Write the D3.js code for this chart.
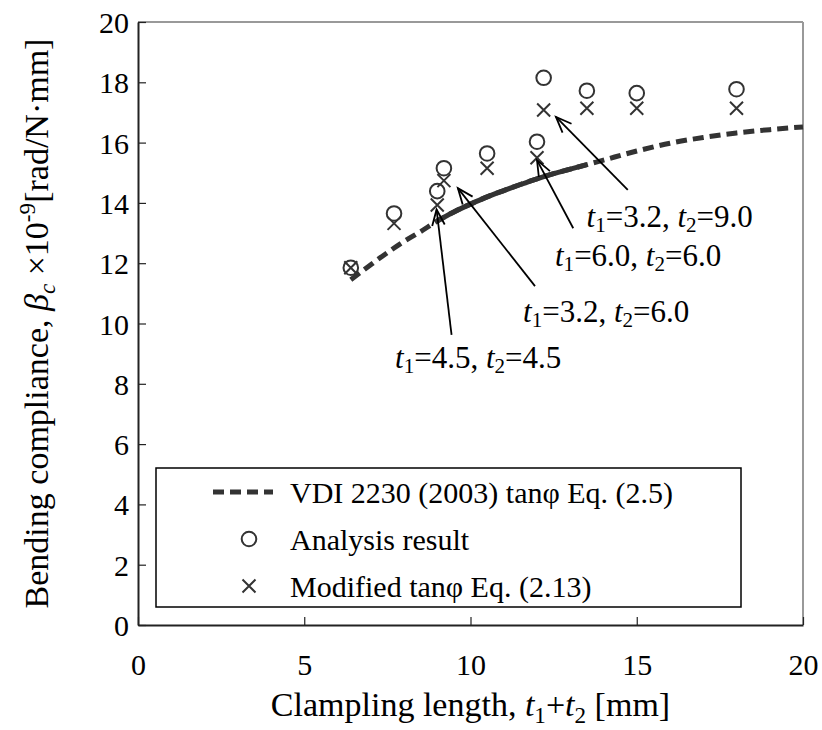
<!DOCTYPE html>
<html>
<head>
<meta charset="utf-8">
<script src="https://cdn.jsdelivr.net/npm/d3@7/dist/d3.min.js"></script>
<style>
  html, body { margin: 0; padding: 0; background: #fff; }
  svg text { font-family: "Liberation Serif", "Times New Roman", serif; fill: #000; }
</style>
</head>
<body>
<svg id="chart" width="822" height="730"></svg>
<script>
// Clamping length t1+t2 [mm] and bending compliance values
const pointX = [6.4, 7.7, 9.0, 9.2, 10.5, 12.0, 12.2, 13.5, 15.0, 18.0];
const analysisY = [11.85, 13.65, 14.39, 15.15, 15.64, 16.03, 18.15, 17.72, 17.64, 17.77];
const modifiedY = [11.85, 13.32, 13.93, 14.74, 15.15, 15.5, 17.08, 17.14, 17.14, 17.14];

// VDI 2230 (2003) tanφ curve
const vdiX = [6.4, 7.0, 7.5, 8.0, 8.5, 9.0, 9.5, 10.0, 10.5, 11.0, 11.5, 12.0, 12.5, 13.0, 13.5, 14.0, 15.0, 16.0, 17.0, 18.0, 19.0, 20.0];
const vdiY = [11.45, 11.95, 12.35, 12.72, 13.05, 13.4, 13.7, 13.96, 14.2, 14.41, 14.61, 14.8, 14.97, 15.12, 15.27, 15.42, 15.72, 15.98, 16.17, 16.32, 16.43, 16.52];

const xTicks = [0, 5, 10, 15, 20];
const yTicks = [0, 2, 4, 6, 8, 10, 12, 14, 16, 18, 20];

const legendLabels = ["VDI 2230 (2003) tanφ Eq. (2.5)", "Analysis result", "Modified tanφ Eq. (2.13)"];

// Callouts: label text parts, label anchor and arrow tail/tip in data units
const calloutT1 = ["4.5", "3.2", "6.0", "3.2"];
const calloutT2 = ["4.5", "6.0", "6.0", "9.0"];
const calloutLabelX = [7.73, 11.58, 12.54, 13.49];
const calloutLabelY = [8.52, 10.06, 11.9, 13.2];
const calloutTailX = [9.43, 11.94, 13.09, 14.73];
const calloutTailY = [9.62, 11.24, 13.16, 14.43];
const calloutTipX = [8.98, 9.62, 12.0, 12.57];
const calloutTipY = [13.78, 14.49, 15.42, 16.85];

const svg = d3.select("#chart");
const M = { left: 138, right: 803, top: 22, bottom: 625 };
const FS_TICK = 30, FS_TITLE = 34, FS_NOTE = 31, FS_LEG = 30;

const x = d3.scaleLinear().domain([0, 20]).range([M.left, M.right]);
const y = d3.scaleLinear().domain([0, 20]).range([M.bottom, M.top]);

const ink = "#333";

// Writes a text run made of plain, italic, subscript and superscript pieces
function rich(sel, parts, size, subShift = 0.22) {
  parts.forEach(p => {
    const ts = sel.append("tspan").text(p.t);
    if (p.i) ts.attr("font-style", "italic");
    if (p.sub) ts.attr("font-size", size * 0.68).attr("dy", size * subShift);
    if (p.sup) ts.attr("font-size", size * 0.68).attr("dy", -size * 0.38);
    if (p.back) ts.attr("dy", p.back * size);
  });
}

// Axes with inward ticks
const xAxis = d3.axisBottom(x).tickValues(xTicks).tickSizeInner(-8).tickSizeOuter(0).tickPadding(29).tickFormat(d3.format("d"));
const yAxis = d3.axisLeft(y).tickValues(yTicks).tickSizeInner(-8).tickSizeOuter(0).tickPadding(9).tickFormat(d3.format("d"));

// Plot frame: top and right edges in grey
svg.append("line").attr("x1", M.left).attr("x2", M.right).attr("y1", M.top).attr("y2", M.top)
  .attr("stroke", "#999").attr("stroke-width", 2);
svg.append("line").attr("x1", M.right).attr("x2", M.right).attr("y1", M.top).attr("y2", M.bottom)
  .attr("stroke", "#999").attr("stroke-width", 2);

const gx = svg.append("g").attr("transform", `translate(0,${M.bottom})`).call(xAxis);
const gy = svg.append("g").attr("transform", `translate(${M.left},0)`).call(yAxis);
[gx, gy].forEach(g => {
  g.select(".domain").attr("stroke", "#222").attr("stroke-width", 2);
  g.selectAll(".tick line").attr("stroke", "#222").attr("stroke-width", 1.2);
  g.selectAll(".tick text").attr("font-family", "Liberation Serif, Times New Roman, serif")
    .attr("font-size", FS_TICK).attr("fill", "#000");
});
gx.selectAll(".tick text").attr("dy", "0.71em");
gy.selectAll(".tick text").attr("dy", "0.35em");

// Axis titles
const xt = svg.append("text").attr("x", (M.left + M.right) / 2).attr("y", 716)
  .attr("text-anchor", "middle").attr("font-size", FS_TITLE);
rich(xt, [{ t: "Clampling length, " }, { t: "t", i: true }, { t: "1", sub: true }, { t: "+", back: -0.22 },
  { t: "t", i: true }, { t: "2", sub: true }, { t: " [mm]", back: -0.22 }], FS_TITLE);

const yt = svg.append("text").attr("transform", `translate(48,${(M.top + M.bottom) / 2}) rotate(-90)`)
  .attr("text-anchor", "middle").attr("font-size", FS_TITLE);
rich(yt, [{ t: "Bending compliance, " }, { t: "β", i: true }, { t: "c", i: true, sub: true },
  { t: " ×10", back: -0.22 }, { t: "-9", sup: true }, { t: "[rad/N·mm]", back: 0.38 }], FS_TITLE);

// VDI curve: dashed, with a continuous stretch over the tested range
const vdi = vdiX.map((v, i) => ({ x: v, y: vdiY[i] }));
const lineGen = d3.line().x(d => x(d.x)).y(d => y(d.y)).curve(d3.curveMonotoneX);
svg.append("path").datum(vdi).attr("d", lineGen).attr("fill", "none")
  .attr("stroke", ink).attr("stroke-width", 5).attr("stroke-dasharray", "11,6");
svg.append("path").datum(vdi.filter(d => d.x >= 9 && d.x <= 13.5)).attr("d", lineGen).attr("fill", "none")
  .attr("stroke", ink).attr("stroke-width", 5);

// Markers
const XS = 6.5;
function crossPath(cx, cy, s) {
  return `M${cx - s},${cy - s}L${cx + s},${cy + s}M${cx - s},${cy + s}L${cx + s},${cy - s}`;
}
svg.append("g").selectAll("path").data(pointX.map((v, i) => ({ x: v, y: modifiedY[i] }))).join("path")
  .attr("d", d => crossPath(x(d.x), y(d.y), XS)).attr("stroke", ink).attr("stroke-width", 2).attr("fill", "none");
svg.append("g").selectAll("circle").data(pointX.map((v, i) => ({ x: v, y: analysisY[i] }))).join("circle")
  .attr("cx", d => x(d.x)).attr("cy", d => y(d.y)).attr("r", 7.3)
  .attr("fill", "none").attr("stroke", ink).attr("stroke-width", 2);

// Callout arrows and labels
const callouts = calloutT1.map((t1, i) => ({
  t1, t2: calloutT2[i], lx: calloutLabelX[i], ly: calloutLabelY[i],
  x0: calloutTailX[i], y0: calloutTailY[i], x1: calloutTipX[i], y1: calloutTipY[i]
}));
const cg = svg.append("g");
callouts.forEach(c => {
  const ax = x(c.x0), ay = y(c.y0), bx = x(c.x1), by = y(c.y1);
  cg.append("line").attr("x1", ax).attr("y1", ay).attr("x2", bx).attr("y2", by)
    .attr("stroke", "#000").attr("stroke-width", 1.8);
  const ang = Math.atan2(ay - by, ax - bx);
  const L = 17, spread = 0.38;
  const head = `M${bx + L * Math.cos(ang - spread)},${by + L * Math.sin(ang - spread)}L${bx},${by}L${bx + L * Math.cos(ang + spread)},${by + L * Math.sin(ang + spread)}`;
  cg.append("path").attr("d", head).attr("fill", "none").attr("stroke", "#000").attr("stroke-width", 1.8);
  const t = cg.append("text").attr("x", x(c.lx)).attr("y", y(c.ly)).attr("font-size", FS_NOTE);
  rich(t, [{ t: "t", i: true }, { t: "1", sub: true }, { t: "=" + c.t1 + ", ", back: -0.17 },
    { t: "t", i: true }, { t: "2", sub: true }, { t: "=" + c.t2, back: -0.17 }], FS_NOTE, 0.17);
});

// Legend
const lg = svg.append("g");
lg.append("rect").attr("x", 156).attr("y", 468).attr("width", 585).attr("height", 139)
  .attr("fill", "#fff").attr("stroke", "#000").attr("stroke-width", 1.5);
const rowY = [492, 539, 586];
lg.append("line").attr("x1", 213).attr("x2", 273).attr("y1", rowY[0]).attr("y2", rowY[0])
  .attr("stroke", ink).attr("stroke-width", 5).attr("stroke-dasharray", "11,6");
lg.append("circle").attr("cx", 249).attr("cy", rowY[1]).attr("r", 7.3)
  .attr("fill", "none").attr("stroke", ink).attr("stroke-width", 2);
lg.append("path").attr("d", crossPath(249, rowY[2], XS)).attr("stroke", ink).attr("stroke-width", 2);
legendLabels.forEach((s, i) => {
  lg.append("text").attr("x", 290).attr("y", rowY[i]).attr("dy", "0.35em").attr("font-size", FS_LEG).text(s);
});
</script>
</body>
</html>
